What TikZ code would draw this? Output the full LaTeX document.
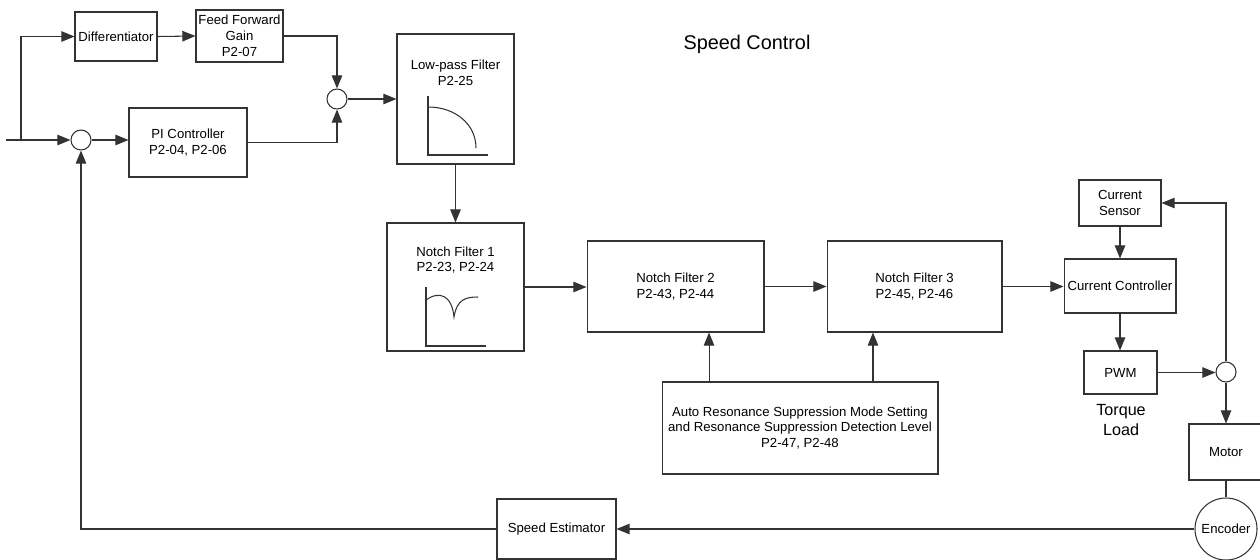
\documentclass[tikz,border=0pt]{standalone}
\usepackage{fontspec}
\setmainfont{Liberation Sans}
\usetikzlibrary{arrows.meta}

\begin{document}
\begin{tikzpicture}[
    x=0.02cm, y=-0.02cm,
    >={Triangle[length=7.5pt,width=6pt]},
    font=\fontsize{7.5}{9}\selectfont,
    line width=0.6pt,
    ctrlblk/.style={
      rectangle, draw=black!80,
      align=center, inner sep=1pt
    },
    sumnode/.style={circle, draw=black!80, minimum size=0.4cm, inner sep=0pt},
    sigarr/.style={->, draw=black!80},
    sigline/.style={draw=black!80},
    blktxt/.style={align=center, inner sep=0pt}
  ]
  \useasboundingbox (0,0) rectangle (1260,559);

  % Title
  \node[font=\fontsize{11.3}{13}\selectfont] (title) at (747,44) {Speed Control};

  % Feed forward path
  \node[ctrlblk, minimum width=1.64cm, minimum height=0.98cm] (diff) at (116,36.5) {Differentiator};
  \node[ctrlblk, minimum width=1.74cm, minimum height=1.04cm] (ffg) at (239.5,36)
    {Feed Forward\\Gain\\P2-07};

  % Speed loop
  \node[sumnode] (sum1) at (81,140) {};
  \node[ctrlblk, minimum width=2.36cm, minimum height=1.38cm] (pic) at (188,142.5)
    {PI Controller\\P2-04, P2-06};
  \node[sumnode] (sum2) at (337,99) {};

  % Filters
  \node[ctrlblk, minimum width=2.34cm, minimum height=2.6cm] (lpf) at (455.5,99) {};
  \node[blktxt] (lpftxt) at (455.5,73) {Low-pass Filter\\P2-25};
  \draw[sigline] (428,96) -- (428,155) -- (488,155);
  \draw[sigline] (428,107) .. controls (455,107) and (476,124) .. (476,148);

  \node[ctrlblk, minimum width=2.74cm, minimum height=2.56cm] (nf1) at (455.5,287) {};
  \node[blktxt] (nf1txt) at (455.5,260) {Notch Filter 1\\P2-23, P2-24};
  \draw[sigline] (426,287) -- (426,346) -- (486,346);
  \draw[sigline] (426,300) .. controls (440,290) and (452,296) .. (454,317)
    .. controls (457,299) and (466,297) .. (478,297);

  \node[ctrlblk, minimum width=3.54cm, minimum height=1.82cm] (nf2) at (675.5,286.5)
    {Notch Filter 2\\P2-43, P2-44};
  \node[ctrlblk, minimum width=3.5cm, minimum height=1.82cm] (nf3) at (914.5,286.5)
    {Notch Filter 3\\P2-45, P2-46};
  \node[ctrlblk, minimum width=5.52cm, minimum height=1.84cm,
    font=\fontsize{7.5}{8.6}\selectfont] (ars) at (800,428)
    {Auto Resonance Suppression Mode Setting\\and Resonance Suppression Detection Level\\P2-47, P2-48};

  % Current loop
  \node[ctrlblk, minimum width=1.64cm, minimum height=0.92cm] (csen) at (1120,203)
    {Current\\Sensor};
  \node[ctrlblk, minimum width=2.24cm, minimum height=1.08cm] (cctl) at (1120,286)
    {Current Controller};
  \node[ctrlblk, minimum width=1.46cm, minimum height=0.86cm] (pwm) at (1120.5,372.5) {PWM};
  \node[blktxt, font=\fontsize{9.2}{11.3}\selectfont] (tload) at (1121,420) {Torque\\Load};
  \node[sumnode] (sum3) at (1226,372) {};
  \node[ctrlblk, minimum width=1.48cm, minimum height=1.12cm] (motor) at (1226,452) {Motor};
  \node[circle, draw=black!80, minimum size=1.24cm, inner sep=0pt] (enc) at (1226,529) {Encoder};
  \node[ctrlblk, minimum width=2.38cm, minimum height=1.2cm] (spe) at (556.5,529) {Speed Estimator};

  % Input
  \coordinate (cmd) at (6,140);
  \coordinate (tap) at (21,140);

  % Arrows
  \draw[sigarr] (cmd) -- (sum1.west);
  \draw[sigarr] (tap) |- (diff.west);
  \draw[sigarr] (diff.east) -- (ffg.west);
  \draw[sigarr] (ffg.east) -| (sum2.north);
  \draw[sigarr] (sum1.east) -- (sum1.east -| pic.west);
  \draw[sigarr] (pic.east) -| (sum2.south);
  \draw[sigarr] (sum2.east) -- (lpf.west);
  \draw[sigarr] (lpf.south) -- (nf1.north);
  \draw[sigarr] (nf1.east) -- (nf1.east -| nf2.west);
  \draw[sigarr] (nf2.east) -- (nf3.west);
  \draw[sigarr] ([xshift=-1.82cm]ars.north) -- ([xshift=-1.82cm]ars.north |- nf2.south);
  \draw[sigarr] ([xshift=1.46cm]ars.north) -- ([xshift=1.46cm]ars.north |- nf3.south);
  \draw[sigarr] (nf3.east) -- (nf3.east -| cctl.west);
  \draw[sigarr] (csen.south) -- (csen.south |- cctl.north);
  \draw[sigarr] (cctl.south) -- (cctl.south |- pwm.north);
  \draw[sigarr] (pwm.east) -- (pwm.east -| sum3.west);
  \draw[sigarr] (sum3.north) |- (csen.east);
  \draw[sigarr] (sum3.south) -- (motor.north);
  \draw[sigline] (motor.south) -- (enc.north);
  \draw[sigarr] (enc.west) -- (spe.east);
  \draw[sigarr] (spe.west) -| (sum1.south);
\end{tikzpicture}
\end{document}
